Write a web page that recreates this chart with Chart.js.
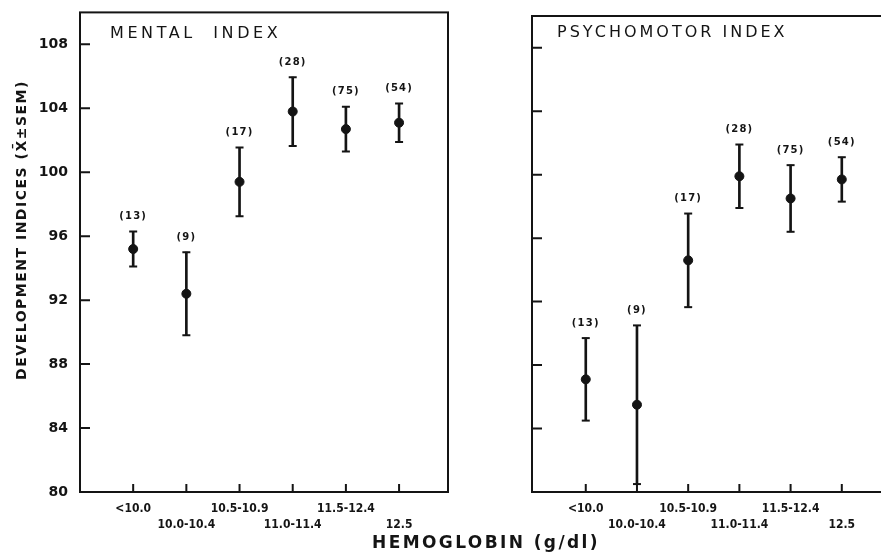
<!DOCTYPE html>
<html>
<head>
<meta charset="utf-8">
<script src="https://cdn.jsdelivr.net/npm/chart.js@4"></script>
<style>
  html, body { margin: 0; padding: 0; background: #fff; }
  #wrap { position: relative; width: 881px; height: 552px; overflow: hidden; background: #fff; }
  #wrap canvas { position: absolute; top: 0; }
  #mental { left: 0; }
  #motor { left: 456px; }
  #xtitle {
    position: absolute; left: 486px; top: 531px; transform: translateX(-50%);
    font: bold 17px "DejaVu Sans", sans-serif; letter-spacing: 2.4px;
    color: #141414; white-space: nowrap; line-height: 22px;
  }
</style>
</head>
<body>
<div id="wrap">
  <canvas id="mental" width="456" height="552"></canvas>
  <canvas id="motor" width="460" height="552"></canvas>
  <div id="xtitle">HEMOGLOBIN (g/dl)</div>
</div>
<script>
// hemoglobin groups (g/dl) and number of infants in each
const hbLabels = ['<10.0', '10.0-10.4', '10.5-10.9', '11.0-11.4', '11.5-12.4', '12.5'];
const groupSizes = [13, 9, 17, 28, 75, 54];

// Bayley scores, mean and SEM per group
const mentalMean = [95.2, 92.4, 99.4, 103.8, 102.7, 103.1];
const mentalSem = [1.1, 2.6, 2.15, 2.15, 1.4, 1.2];
const motorMean = [87.1, 85.5, 94.6, 99.9, 98.5, 99.7];
const motorSem = [2.6, 5.0, 2.95, 2.0, 2.1, 1.4];

const yTickValues = [80, 84, 88, 92, 96, 100, 104, 108];
const yTitle = 'DEVELOPMENT INDICES (X\u0304\u00B1SEM)';

const ink = '#141414';
const sansFamily = '"DejaVu Sans", sans-serif';
const narrowFamily = '"DejaVu Sans Condensed", "Liberation Sans Narrow", "DejaVu Sans", sans-serif';

function makePanel(id, heading, means, sems, cfg) {
  const bars = means.map((m, i) => ({ x: i, y: [m - sems[i], m + sems[i]] }));
  const caps = means.flatMap((m, i) => [{ x: i, y: m - sems[i] }, { x: i, y: m + sems[i] }]);
  const dots = means.map((m, i) => ({ x: i, y: m }));

  // frame, inward tick marks, heading, group sizes and the shared y title
  const decor = {
    id: 'decor',
    afterDatasetsDraw(chart) {
      const { ctx, chartArea: a, scales: { x, y } } = chart;
      ctx.save();
      ctx.strokeStyle = ink;
      ctx.lineWidth = 2;
      ctx.strokeRect(a.left, a.top, a.right - a.left, a.bottom - a.top);
      ctx.beginPath();
      y.ticks.forEach(t => {
        if (t.value <= yTickValues[0]) return;
        const py = y.getPixelForValue(t.value);
        ctx.moveTo(a.left, py);
        ctx.lineTo(a.left + 10, py);
      });
      x.ticks.forEach(t => {
        const px = x.getPixelForValue(t.value);
        ctx.moveTo(px, a.bottom);
        ctx.lineTo(px, a.bottom - 8);
      });
      ctx.stroke();

      ctx.fillStyle = ink;
      ctx.textBaseline = 'middle';
      ctx.textAlign = 'left';
      ctx.font = '16px ' + sansFamily;
      ctx.letterSpacing = cfg.headSpacing;
      ctx.fillText(heading, a.left + cfg.headDx, a.top + cfg.headDy);

      ctx.textAlign = 'center';
      ctx.font = 'bold 10px ' + sansFamily;
      ctx.letterSpacing = '1.2px';
      means.forEach((m, i) => {
        const px = x.getPixelForValue(i);
        const py = y.getPixelForValue(m + sems[i]);
        ctx.fillText('(' + groupSizes[i] + ')', px, py - 15);
      });

      if (cfg.yLabels) {
        ctx.translate(22, 230);
        ctx.rotate(-Math.PI / 2);
        ctx.font = 'bold 14px ' + sansFamily;
        ctx.letterSpacing = '1.5px';
        ctx.fillText(yTitle, 0, 0);
      }
      ctx.restore();
    }
  };

  return new Chart(document.getElementById(id), {
    type: 'scatter',
    data: {
      datasets: [
        { type: 'bar', data: bars, backgroundColor: ink, barThickness: 2, grouped: false },
        { data: caps, pointStyle: 'line', radius: 4, borderWidth: 2, borderColor: ink },
        { data: dots, pointStyle: 'circle', radius: 4.5, backgroundColor: ink, borderColor: ink }
      ]
    },
    options: {
      responsive: false,
      animation: false,
      events: [],
      layout: { padding: cfg.padding },
      plugins: { legend: { display: false }, tooltip: { enabled: false } },
      scales: {
        x: {
          type: 'linear', min: cfg.xMin, max: cfg.xMax, offset: false,
          grid: { display: false }, border: { display: false },
          afterBuildTicks: s => { s.ticks = hbLabels.map((_, i) => ({ value: i })); },
          afterFit: s => { s.height = 60; },
          ticks: {
            autoSkip: false, maxRotation: 0, padding: 1, color: ink,
            font: { family: narrowFamily, size: 12, weight: 'bold', lineHeight: 1.35 },
            callback: (v, i) => (i % 2 ? ['', hbLabels[i]] : [hbLabels[i], ''])
          }
        },
        y: {
          min: 80, max: 110,
          grid: { display: false }, border: { display: false },
          afterBuildTicks: s => { s.ticks = yTickValues.map(v => ({ value: v })); },
          afterFit: s => { s.width = cfg.yWidth; },
          ticks: {
            display: cfg.yLabels, padding: 4, color: ink,
            font: { family: sansFamily, size: 14, weight: 'bold' }
          }
        }
      }
    },
    plugins: [decor]
  });
}

makePanel('mental', 'MENTAL  INDEX', mentalMean, mentalSem, {
  xMin: -1, xMax: 5.92, yWidth: 80, yLabels: true,
  padding: { top: 4, right: 8, left: 0, bottom: 0 },
  headDx: 30, headDy: 21, headSpacing: '3.6px'
});

makePanel('motor', 'PSYCHOMOTOR INDEX', motorMean, motorSem, {
  xMin: -1.05, xMax: 6, yWidth: 76, yLabels: false,
  padding: { top: 16, right: 23, left: 0, bottom: 0 },
  headDx: 25, headDy: 17, headSpacing: '3px'
});
</script>
</body>
</html>
